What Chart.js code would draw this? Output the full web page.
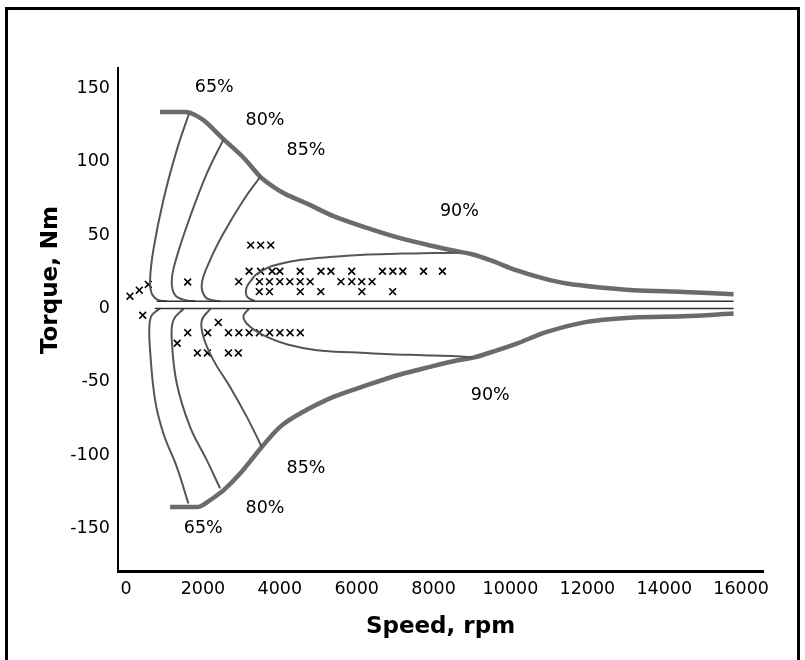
<!DOCTYPE html>
<html>
<head>
<meta charset="utf-8">
<title>Torque vs speed efficiency map</title>
<script src="https://cdn.jsdelivr.net/npm/chart.js@4.4.1/dist/chart.umd.min.js"></script>
<style>
    html, body { margin: 0; padding: 0; background: #fff; }
    #wrap { width: 805px; height: 660px; }
</style>
</head>
<body>
<div id="wrap"><canvas id="torqueChart" width="805" height="660"></canvas></div>
<script>
// Tick labels
const speedTicks = [0, 2000, 4000, 6000, 8000, 10000, 12000, 14000, 16000];
const torqueTicks = [-150, -100, -50, 0, 50, 100, 150];

// Outer torque envelope [rpm, Nm]
const envelopeUp = [[885, 134], [1500, 134], [1665, 133.5], [2011, 128.5], [2532, 115.5], [3052, 103], [3487, 90],
    [3833, 83], [4150, 78], [4750, 71], [5394, 63], [6263, 55], [7130, 48], [7910, 43], [8604, 39],
    [9000, 37], [9471, 33], [10166, 26], [10859, 20.5], [11467, 17], [12333, 14.3], [13201, 12.5],
    [14503, 11.3], [15804, 9.8]];
const envelopeDown = [[1145, -135.3], [1750, -135.3], [1925, -135], [2186, -130.7], [2532, -124], [2966, -112.5],
    [3531, -94.4], [4007, -80.7], [4527, -71.6], [5394, -60.3], [6263, -52.3], [7130, -45],
    [7910, -39.8], [8604, -35.5], [9037, -33.5], [9471, -30], [10166, -23.9], [10946, -16],
    [11987, -9.1], [13201, -6.1], [14503, -5.3], [15804, -3.4]];

// Efficiency contours [rpm, Nm]
const eff65Up = [[1639, 133], [1319, 108], [971, 74], [710, 40], [624, 19.3], [669, 10.2], [840, 5.7], [1058, 5]];
const eff80Up = [[2532, 115.2], [2100, 92], [1665, 62.5], [1319, 35.2], [1189, 19.3], [1275, 9.1], [1579, 5.5], [1800, 5]];
const eff85Up = [[3487, 89.7], [3052, 73.8], [2532, 51.1], [2186, 33], [1970, 17], [2056, 7.9], [2272, 5.5], [2450, 5]];
const eff90Up = [[3350, 5], [3150, 8], [3130, 14], [3250, 19], [3400, 23.5], [3800, 29], [4500, 33],
    [5400, 35.3], [6300, 36.8], [7200, 37.5], [8000, 37.8], [8650, 38]];
const eff65Down = [[885, 0], [669, -4.6], [606, -12.5], [624, -28.4], [755, -62.5], [971, -85.2], [1319, -108], [1621, -133]];
const eff80Down = [[1500, 0], [1231, -8], [1189, -21.6], [1319, -51.1], [1665, -80.7], [2100, -103.4], [2446, -122.7]];
const eff85Down = [[2200, 0], [1970, -8], [2013, -19.4], [2272, -35.2], [2706, -53.5], [3141, -73.9], [3531, -94.4]];
const eff90Down = [[3200, 0], [3052, -5.7], [3227, -12.5], [3661, -19.4], [4200, -24.5], [4962, -28.4],
    [6003, -30], [6869, -31.2], [7736, -31.8], [8600, -32.5], [9037, -33.5]];

// Zero-torque band edges
const bandUp = [[800, 5], [15804, 5]];
const bandDown = [[750, 0], [15804, 0]];

// Operating points (x marks)
const opPoints = [
    [102, 8.4], [344, 12.5], [578, 16.4], [1603, 18.1],
    [3242, 43.2], [3502, 43.2], [3763, 43.2],
    [3200, 25.4], [3500, 25.4], [3800, 25.4], [4000, 25.4], [4530, 25.4], [5070, 25.4], [5330, 25.4],
    [5870, 25.4], [6670, 25.4], [6940, 25.4], [7200, 25.4], [7740, 25.4], [8230, 25.4],
    [2930, 18.3], [3470, 18.3], [3730, 18.3], [4000, 18.3], [4260, 18.3], [4530, 18.3], [4790, 18.3],
    [5590, 18.3], [5870, 18.3], [6130, 18.3], [6400, 18.3],
    [3466, 11.5], [3731, 11.5], [4533, 11.5], [5066, 11.5], [6135, 11.5], [6936, 11.5],
    [433, -4.6], [1330, -23.7], [1603, -16.5], [2124, -16.5], [2400, -9.5],
    [2664, -16.5], [2934, -16.5], [3202, -16.5], [3468, -16.5], [3734, -16.5], [4002, -16.5], [4267, -16.5], [4533, -16.5],
    [1855, -30.3], [2116, -30.3], [2662, -30.3], [2922, -30.3]
];

// Contour labels
const effLabels = ['65%', '80%', '85%', '90%', '90%', '85%', '80%', '65%'];
const effLabelSpeed = [2295, 3614, 4681, 8672, 9473, 4681, 3614, 2009];
const effLabelTorque = [150.6, 128.4, 107.9, 66.3, -59.5, -109.1, -136.4, -150];

const FONT = 'DejaVu Sans';

function toXY(pts) {
    return pts.map(([x, y]) => ({ x, y }));
}

function curve(pts, color, width, tension = 0.4) {
    return {
        data: toXY(pts),
        showLine: true,
        borderColor: color,
        borderWidth: width,
        pointRadius: 0,
        tension: tension,
        fill: false
    };
}

// White page with a black frame (left, top, right)
const framePlugin = {
    id: 'frame',
    beforeDraw(chart) {
        const ctx = chart.ctx;
        ctx.save();
        ctx.fillStyle = '#fff';
        ctx.fillRect(0, 0, chart.width, chart.height);
        ctx.strokeStyle = '#000';
        ctx.lineWidth = 3;
        ctx.beginPath();
        ctx.moveTo(6.5, chart.height);
        ctx.lineTo(6.5, 8.5);
        ctx.lineTo(798.5, 8.5);
        ctx.lineTo(798.5, chart.height);
        ctx.stroke();
        ctx.restore();
    }
};

// Percent labels and the rotated torque title
const labelPlugin = {
    id: 'effLabels',
    afterDatasetsDraw(chart) {
        const { ctx, scales: { x, y } } = chart;
        ctx.save();
        ctx.fillStyle = '#000';
        ctx.textAlign = 'center';
        ctx.textBaseline = 'middle';
        ctx.font = `17.5px "${FONT}"`;
        effLabels.forEach((t, i) => {
            ctx.fillText(t, x.getPixelForValue(effLabelSpeed[i]), y.getPixelForValue(effLabelTorque[i]));
        });
        ctx.font = `bold 23px "${FONT}"`;
        ctx.translate(51, 280);
        ctx.rotate(-Math.PI / 2);
        ctx.fillText('Torque, Nm', 0, 0);
        ctx.restore();
    }
};

const envColor = '#6b6b6b';
const lineColor = '#555555';
const bandColor = '#333333';

new Chart(document.getElementById('torqueChart'), {
    type: 'scatter',
    data: {
        datasets: [
            curve(bandUp, bandColor, 1.5, 0),
            curve(bandDown, bandColor, 1.5, 0),
            curve(eff65Up, lineColor, 2),
            curve(eff80Up, lineColor, 2),
            curve(eff85Up, lineColor, 2),
            curve(eff90Up, lineColor, 2),
            curve(eff65Down, lineColor, 2),
            curve(eff80Down, lineColor, 2),
            curve(eff85Down, lineColor, 2),
            curve(eff90Down, lineColor, 2),
            curve(envelopeUp, envColor, 4.5, 0.3),
            curve(envelopeDown, envColor, 4.5, 0.3),
            {
                data: toXY(opPoints),
                showLine: false,
                pointStyle: 'crossRot',
                pointRadius: 4.8,
                borderColor: '#000',
                borderWidth: 1.6
            }
        ]
    },
    options: {
        responsive: false,
        animation: false,
        layout: { padding: { left: 0, top: 68, right: 42, bottom: 0 } },
        plugins: {
            legend: { display: false },
            tooltip: { enabled: false }
        },
        scales: {
            x: {
                type: 'linear',
                min: -210,
                max: 16570,
                afterBuildTicks: scale => { scale.ticks = speedTicks.map(v => ({ value: v })); },
                afterFit: scale => { scale.height = 89; },
                grid: { display: false, drawTicks: false },
                border: { display: true, color: '#000', width: 3 },
                ticks: {
                    color: '#000',
                    font: { family: FONT, size: 17.5 },
                    padding: 8,
                    maxRotation: 0,
                    autoSkip: false,
                    callback: v => String(v)
                },
                title: {
                    display: true,
                    text: 'Speed, rpm',
                    color: '#000',
                    font: { family: FONT, size: 23, weight: 'bold' },
                    padding: { top: 0, bottom: 19 }
                }
            },
            y: {
                type: 'linear',
                min: -179,
                max: 164,
                afterBuildTicks: scale => { scale.ticks = torqueTicks.map(v => ({ value: v })); },
                afterFit: scale => { scale.width = 118; },
                grid: { display: false, drawTicks: false },
                border: { display: true, color: '#000', width: 2 },
                ticks: {
                    color: '#000',
                    font: { family: FONT, size: 17.5 },
                    padding: 8,
                    callback: v => String(v)
                }
            }
        }
    },
    plugins: [framePlugin, labelPlugin]
});
</script>
</body>
</html>
